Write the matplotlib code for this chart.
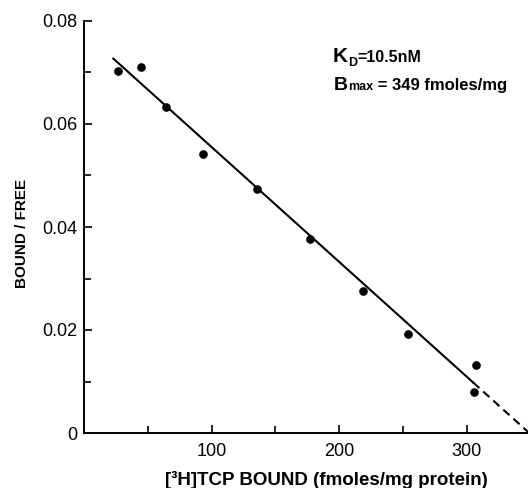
import matplotlib
matplotlib.use("Agg")
import matplotlib.pyplot as plt
import numpy as np

plt.rcParams['font.family'] = ['Liberation Sans', 'DejaVu Sans']

# Data
bound = [26.7, 44.4, 64.3, 93.6, 135.7, 177.3, 218.5, 253.6, 305.3, 307.5]
bound_free = [0.0702, 0.0711, 0.0633, 0.0542, 0.0474, 0.0376, 0.0276, 0.0192, 0.0080, 0.0133]

# Scatchard fit
bmax = 349.0
fit_slope = -0.000223
fit_x_start = 23.0
fit_x_solid_end = 305.0

x_major = [100, 200, 300]
x_minor = [50, 150, 250]
y_major = [0, 0.02, 0.04, 0.06, 0.08]
y_major_labels = ['0', '0.02', '0.04', '0.06', '0.08']
y_minor = [0.01, 0.03, 0.05, 0.07]

W, H = 528, 488
fig = plt.figure(figsize=(W / 100, H / 100), dpi=100)
ax = fig.add_axes([84 / W, 55 / H, 444 / W, 412 / H])

ax.plot(bound, bound_free, 'o', color='black', markersize=5.2, zorder=3)

fit = lambda x: fit_slope * (np.asarray(x) - bmax)
xs = np.array([fit_x_start, fit_x_solid_end])
ax.plot(xs, fit(xs), '-', color='black', lw=1.5)
xd = np.array([fit_x_solid_end, bmax])
ax.plot(xd, fit(xd), '--', color='black', lw=1.5, dashes=(4, 2.5), clip_on=False)

ax.set_xlim(0, 348)
ax.set_ylim(0, 0.08)
for s in ['top', 'right']:
    ax.spines[s].set_visible(False)
for s in ['left', 'bottom']:
    ax.spines[s].set_linewidth(1.4)

ax.set_xticks(x_major)
ax.set_xticklabels([str(v) for v in x_major])
ax.set_xticks(x_minor, minor=True)
ax.set_yticks(y_major)
ax.set_yticklabels(y_major_labels)
ax.set_yticks(y_minor, minor=True)
ax.tick_params(axis='both', which='major', direction='in', length=6, width=1.2, labelsize=13)
ax.tick_params(axis='both', which='minor', direction='in', length=5, width=1.2)
ax.tick_params(axis='x', which='major', pad=7)
ax.tick_params(axis='y', which='major', pad=5)

fig.text(22 / W, 1 - 233 / H, 'BOUND / FREE', rotation=90, ha='center', va='center',
         fontsize=11, fontweight='bold')
fig.text(326 / W, 1 - 480 / H, '[³H]TCP BOUND (fmoles/mg protein)', ha='center', va='center',
         fontsize=13.5, fontweight='bold')

# Annotation pieces chained horizontally
fig.canvas.draw()
r = fig.canvas.get_renderer()

def chain(pieces, x0, y0):
    x = x0
    for txt, size, dy in pieces:
        t = fig.text(x / W, 1 - (y0 + dy) / H, txt, fontsize=size, fontweight='bold',
                     va='baseline', ha='left')
        bb = t.get_window_extent(r)
        x = bb.x1

chain([('K', 15, 0), ('D', 9, 4), ('=10.5nM', 11.5, 0)], 333, 62)
chain([('B', 14, 0), ('max', 9, 0), (' = 349 fmoles/mg', 12, 0)], 334, 90)

fig.savefig('out.png', dpi=100)
